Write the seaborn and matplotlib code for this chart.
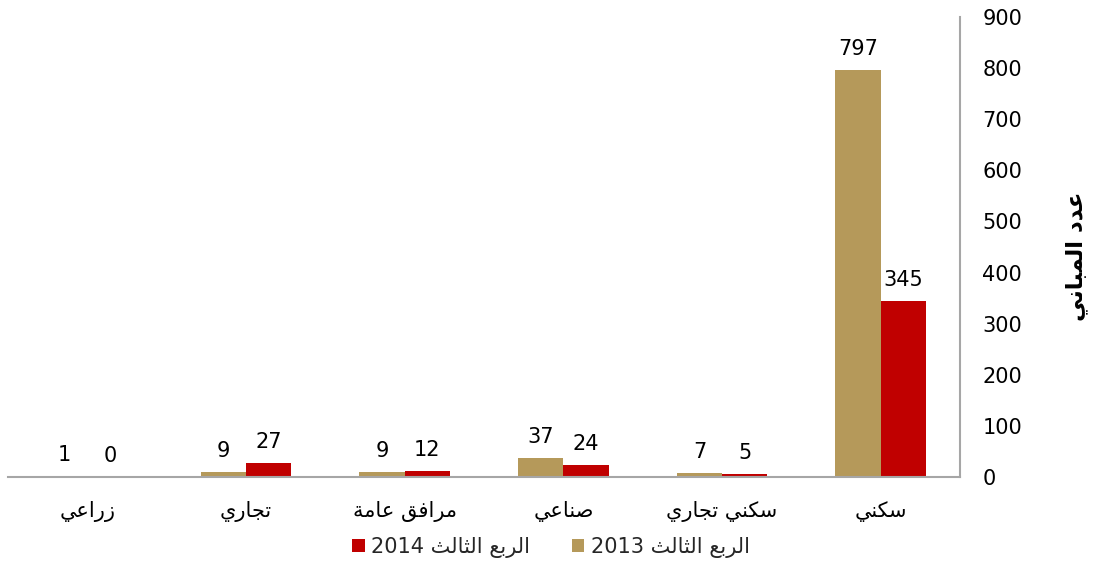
import matplotlib
matplotlib.use("Agg")
import matplotlib.pyplot as plt
import seaborn as sns
import pandas as pd

# ---------------- data ----------------
categories = ["زراعي", "تجاري", "مرافق عامة", "صناعي", "سكني تجاري", "سكني"]
series_names = ["الربع الثالث 2013", "الربع الثالث 2014"]
values_2013 = [1, 9, 9, 37, 7, 797]
values_2014 = [0, 27, 12, 24, 5, 345]
y_ticks = [0, 100, 200, 300, 400, 500, 600, 700, 800, 900]
y_label = "عدد المباني"

# ------------- minimal Arabic shaping (logical -> visual) -------------
FORMS = {
    "ا": ("\uFE8D", "\uFE8E"),
    "ب": ("\uFE8F", "\uFE90", "\uFE91", "\uFE92"),
    "ة": ("\uFE93", "\uFE94"),
    "ت": ("\uFE95", "\uFE96", "\uFE97", "\uFE98"),
    "ث": ("\uFE99", "\uFE9A", "\uFE9B", "\uFE9C"),
    "ج": ("\uFE9D", "\uFE9E", "\uFE9F", "\uFEA0"),
    "د": ("\uFEA9", "\uFEAA"),
    "ر": ("\uFEAD", "\uFEAE"),
    "ز": ("\uFEAF", "\uFEB0"),
    "س": ("\uFEB1", "\uFEB2", "\uFEB3", "\uFEB4"),
    "ص": ("\uFEB9", "\uFEBA", "\uFEBB", "\uFEBC"),
    "ع": ("\uFEC9", "\uFECA", "\uFECB", "\uFECC"),
    "ف": ("\uFED1", "\uFED2", "\uFED3", "\uFED4"),
    "ق": ("\uFED5", "\uFED6", "\uFED7", "\uFED8"),
    "ك": ("\uFED9", "\uFEDA", "\uFEDB", "\uFEDC"),
    "ل": ("\uFEDD", "\uFEDE", "\uFEDF", "\uFEE0"),
    "م": ("\uFEE1", "\uFEE2", "\uFEE3", "\uFEE4"),
    "ن": ("\uFEE5", "\uFEE6", "\uFEE7", "\uFEE8"),
    "ي": ("\uFEF1", "\uFEF2", "\uFEF3", "\uFEF4"),
}


def shape_word(w):
    out = []
    for i, c in enumerate(w):
        f = FORMS.get(c)
        if f is None:
            out.append(c)
            continue
        prev = w[i - 1] if i > 0 else None
        nxt = w[i + 1] if i + 1 < len(w) else None
        jp = prev in FORMS and len(FORMS[prev]) == 4
        jn = len(f) == 4 and nxt in FORMS
        if jp and jn:
            out.append(f[3])
        elif jp:
            out.append(f[1])
        elif jn:
            out.append(f[2])
        else:
            out.append(f[0])
    return "".join(reversed(out))


def visual(text):
    toks = text.split(" ")
    res = []
    for t in reversed(toks):
        if any(ch in FORMS for ch in t):
            res.append(shape_word(t))
        else:
            res.append(t)
    return " ".join(res)


# ---------------- figure ----------------
sns.set_theme(style="white")
plt.rcParams["font.family"] = ["DejaVu Sans"]

df = pd.DataFrame({
    "cat": categories * 2,
    "series": [series_names[0]] * len(categories) + [series_names[1]] * len(categories),
    "value": values_2013 + values_2014,
})

colors = {series_names[0]: "#B5995A", series_names[1]: "#C00000"}

fig = plt.figure(figsize=(10.93, 5.67), dpi=100)
ax = fig.add_axes([8 / 1093, 90 / 567, (960 - 8) / 1093, (477 - 17) / 567])

sns.barplot(data=df, x="cat", y="value", hue="series", order=categories,
            hue_order=series_names, palette=colors, width=0.57, gap=0,
            saturation=1, ax=ax, legend=True, linewidth=0, edgecolor="none")

for cont in ax.containers:
    ax.bar_label(cont, fmt="%d", padding=8, fontsize=15, color="#000000")

ax.set_ylim(0, 900)
ax.set_xlim(-0.5, len(categories) - 0.5)
ax.set_yticks(y_ticks)
ax.set_xticks(range(len(categories)))
ax.set_xticklabels([visual(c) for c in categories], fontsize=15, color="#000000")
ax.yaxis.tick_right()
ax.tick_params(axis="y", length=0, pad=16, labelsize=15, labelcolor="#000000")
ax.tick_params(axis="x", length=0, pad=17)
ax.set_xlabel("")
ax.set_ylabel("")

for s in ["top", "left"]:
    ax.spines[s].set_visible(False)
for s in ["right", "bottom"]:
    ax.spines[s].set_color("#A6A6A6")
    ax.spines[s].set_linewidth(1.5)

fig.text(1076 / 1093, (567 - 256) / 567, visual(y_label), rotation=90,
         ha="center", va="center", fontsize=16.5, fontweight="bold", color="#000000")

handles, labels = ax.get_legend_handles_labels()
if ax.legend_:
    ax.legend_.remove()
lg = fig.legend([handles[1], handles[0]],
                [visual(series_names[1]), visual(series_names[0])],
                loc="center", bbox_to_anchor=(551 / 1093, 1 - 547 / 567),
                ncol=2, frameon=False, fontsize=15, handlelength=0.6,
                handleheight=0.6, handletextpad=0.3, columnspacing=2.0)

fig.savefig("out.png", dpi=100)
